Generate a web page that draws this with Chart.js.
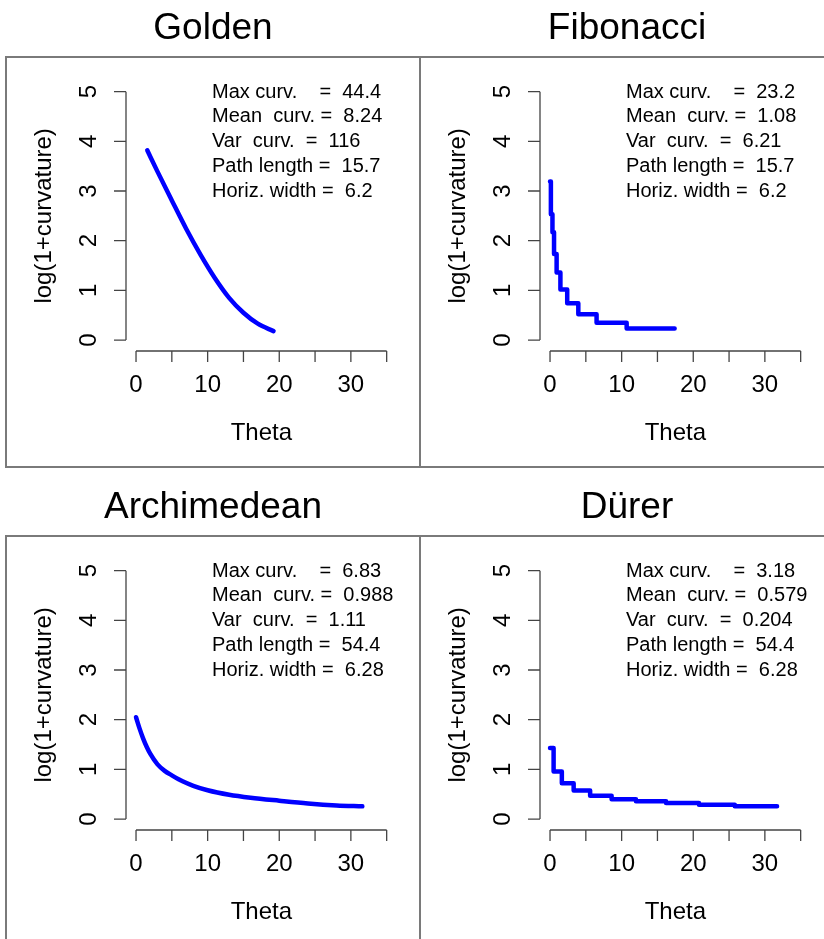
<!DOCTYPE html>
<html>
<head>
<meta charset="utf-8">
<script src="https://cdn.jsdelivr.net/npm/chart.js@4.4.1/dist/chart.umd.min.js"></script>
<style>
  body { margin: 0; background: #fff; width: 824px; height: 939px; overflow: hidden; position: relative; }
  .painel { position: absolute; width: 420px; height: 479px; }
</style>
</head>
<body>
<div class="painel" style="left:0;top:0"><canvas id="g0" width="420" height="479"></canvas></div>
<div class="painel" style="left:414px;top:0"><canvas id="g1" width="420" height="479"></canvas></div>
<div class="painel" style="left:0;top:479px"><canvas id="g2" width="420" height="479"></canvas></div>
<div class="painel" style="left:414px;top:479px"><canvas id="g3" width="420" height="479"></canvas></div>
<script>
// valores (theta x log(1+curvatura))
const thetaGolden = [1.57, 3, 5, 7, 9, 11, 13, 15, 17, 19.2];
const curvGolden = [3.82, 3.39, 2.81, 2.24, 1.72, 1.25, 0.85, 0.55, 0.33, 0.18];

const thetaFib = [0, 0.12, 0.34, 0.56, 0.92, 1.45, 2.4, 3.95, 6.5, 10.7, 17.4];
const curvFib = [3.19, 2.53, 2.17, 1.73, 1.36, 1.02, 0.74, 0.52, 0.35, 0.234, 0.234];

const thetaArq = [0, 0.5, 1, 1.5, 2, 3, 4, 5, 6.5, 8, 10, 13, 16, 20, 24, 28, 31.6];
const curvArq = [2.05, 1.82, 1.62, 1.45, 1.31, 1.10, 0.97, 0.88, 0.76, 0.67, 0.58, 0.49, 0.43, 0.37, 0.315, 0.275, 0.256];

const thetaDurer = [0, 0.5, 1.65, 3.3, 5.6, 8.6, 12, 16.2, 20.8, 25.8, 31.7];
const curvDurer = [1.43, 0.955, 0.72, 0.575, 0.47, 0.40, 0.357, 0.323, 0.29, 0.256, 0.256];

const titulos = ['Golden', 'Fibonacci', 'Archimedean', 'Dürer'];
const rotulosStats = ['Max curv.    =  ', 'Mean  curv. =  ', 'Var  curv.  =  ', 'Path length =  ', 'Horiz. width =  '];
const valoresStats = [
    ['44.4', '8.24', '116', '15.7', '6.2'],
    ['23.2', '1.08', '6.21', '15.7', '6.2'],
    ['6.83', '0.988', '1.11', '54.4', '6.28'],
    ['3.18', '0.579', '0.204', '54.4', '6.28']
];
const ticksX = [0, 5, 10, 15, 20, 25, 30, 35];
const rotulosX = [0, 10, 20, 30];
const ticksY = [0, 1, 2, 3, 4, 5];

const FONTE = '"Liberation Sans", Arial, sans-serif';

// eixos no estilo do R (linha só entre o primeiro e o último tick)
const eixosR = {
    id: 'eixosR',
    afterDraw(chart, args, opts) {
        const ctx = chart.ctx;
        const sx = chart.scales.x, sy = chart.scales.y;
        const area = chart.chartArea;
        ctx.save();

        // moldura do painel
        ctx.strokeStyle = '#7a7a7a';
        ctx.lineWidth = 2;
        ctx.strokeRect(6, 57, 414, 410);

        ctx.fillStyle = '#000';
        ctx.textAlign = 'center';
        ctx.textBaseline = 'alphabetic';
        ctx.font = '37px ' + FONTE;
        ctx.fillText(opts.titulo, 213, 39);

        ctx.strokeStyle = '#444';
        ctx.lineWidth = 1.3;

        // eixo y
        const x0 = area.left;
        ctx.beginPath();
        ctx.moveTo(x0, sy.getPixelForValue(ticksY[0]));
        ctx.lineTo(x0, sy.getPixelForValue(ticksY[ticksY.length - 1]));
        ticksY.forEach(v => {
            const py = sy.getPixelForValue(v);
            ctx.moveTo(x0, py);
            ctx.lineTo(x0 - 12, py);
        });
        ctx.stroke();

        ctx.font = '24px ' + FONTE;
        ctx.textBaseline = 'middle';
        ticksY.forEach(v => {
            ctx.save();
            ctx.translate(x0 - 37, sy.getPixelForValue(v));
            ctx.rotate(-Math.PI / 2);
            ctx.fillText(String(v), 0, 0);
            ctx.restore();
        });

        // eixo x
        const y0 = area.bottom + 1;
        ctx.beginPath();
        ctx.moveTo(sx.getPixelForValue(ticksX[0]), y0);
        ctx.lineTo(sx.getPixelForValue(ticksX[ticksX.length - 1]), y0);
        ticksX.forEach(v => {
            const px = sx.getPixelForValue(v);
            ctx.moveTo(px, y0);
            ctx.lineTo(px, y0 + 11);
        });
        ctx.stroke();
        rotulosX.forEach(v => {
            ctx.fillText(String(v), sx.getPixelForValue(v), y0 + 34);
        });

        // títulos dos eixos
        ctx.fillText('Theta', (area.left + area.right) / 2, y0 + 82);
        ctx.save();
        ctx.translate(44, (area.top + area.bottom) / 2);
        ctx.rotate(-Math.PI / 2);
        ctx.fillText('log(1+curvature)', 0, 0);
        ctx.restore();

        // estatísticas
        ctx.textAlign = 'left';
        ctx.font = '20px ' + FONTE;
        rotulosStats.forEach((r, i) => {
            ctx.fillText(r + opts.stats[i], 212, 92 + i * 24.8);
        });
        ctx.restore();
    }
};

function montaPainel(id, theta, curv, degrau, idx) {
    const pontos = theta.map((t, i) => ({ x: t, y: curv[i] }));
    new Chart(document.getElementById(id), {
        type: 'line',
        data: {
            datasets: [{
                data: pontos,
                borderColor: '#0000ff',
                borderWidth: 4.5,
                borderCapStyle: 'round',
                borderJoinStyle: 'round',
                pointRadius: 0,
                stepped: degrau ? 'before' : false,
                cubicInterpolationMode: degrau ? 'default' : 'monotone',
                fill: false
            }]
        },
        options: {
            responsive: false,
            animation: false,
            events: [],
            layout: { padding: { left: 126, right: 23.3, top: 81.7, bottom: 129 } },
            plugins: {
                legend: { display: false },
                tooltip: { enabled: false },
                eixosR: { titulo: titulos[idx], stats: valoresStats[idx] }
            },
            scales: {
                x: { type: 'linear', display: false, min: -1.4, max: 36.4 },
                y: { type: 'linear', display: false, min: -0.2, max: 5.2 }
            }
        },
        plugins: [eixosR]
    });
}

montaPainel('g0', thetaGolden, curvGolden, false, 0);
montaPainel('g1', thetaFib, curvFib, true, 1);
montaPainel('g2', thetaArq, curvArq, false, 2);
montaPainel('g3', thetaDurer, curvDurer, true, 3);
</script>
</body>
</html>
